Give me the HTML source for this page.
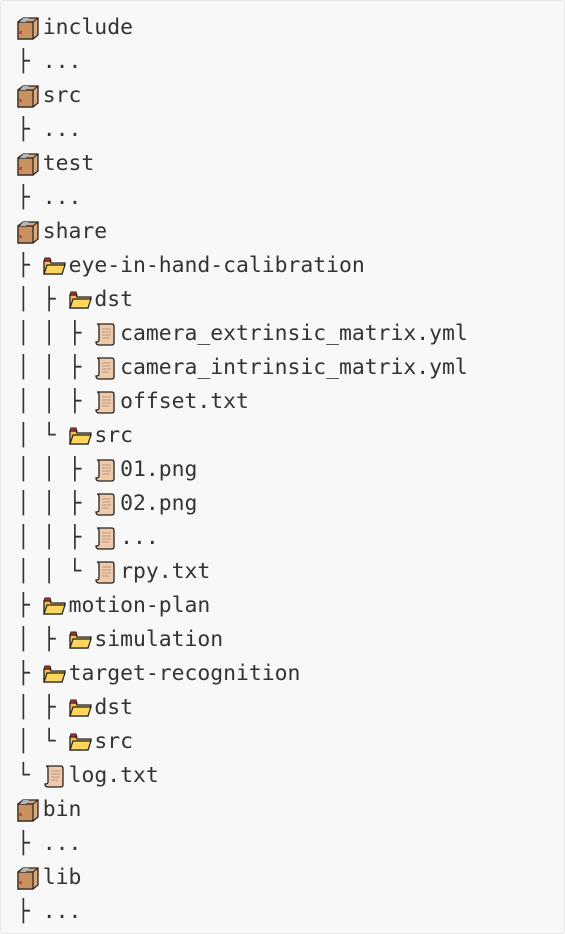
<!DOCTYPE html>
<html><head><meta charset="utf-8"><style>
html,body{margin:0;padding:0;background:#fff;}
#box{position:absolute;left:0;top:0;width:563px;height:932px;background:#f8f8f8;border:1px solid #e8e8e8;border-radius:3px;}
.l{position:absolute;left:17px;height:34px;line-height:34px;font-family:"DejaVu Sans Mono","Liberation Mono",monospace;font-size:21.4px;color:#333;white-space:pre;margin-top:2px;}
.i{display:inline-block;width:25.8px;height:34px;vertical-align:top;position:relative;}
.i svg{position:absolute;left:-1px;top:5px;}
</style></head><body><div id="box"></div>
<svg width="0" height="0" style="position:absolute">
<defs>
<g id="pk"><path d="M2 6 L7 2 L22 2 L22 19 L17 23 L2 23 Z" fill="#d9a77a" stroke="#222" stroke-width="1.3"/><path d="M2 6 L17 6 L17 23 L2 23Z" fill="#c99060" stroke="#222" stroke-width="1.2"/><path d="M17 6 L22 2" fill="none" stroke="#222" stroke-width="1.1"/><path d="M7 2 L13 2 L10 6 L4 6Z" fill="#aab8c4"/><rect x="3.5" y="15" width="2" height="3" fill="#d22"/></g>
<g id="fd"><path d="M2 7 L2 20 L20 20 L23 9 L9 9 L8 7 Z" fill="#f5c043" stroke="#222" stroke-width="1.3"/><path d="M2 7 L3 4 L8 4 L9 7Z" fill="#d22" stroke="#222" stroke-width="1"/><path d="M5 11 L23 11 L20 20 L2 20Z" fill="#fcd55f" stroke="#222" stroke-width="1.2"/></g>
<g id="sc"><path d="M5 2 L19 2 Q21 2 21 5 L21 21 Q21 23 18 23 L6 23 Q3 23 3 20 Q6 20 6 18 L6 5 Q6 2 4 2Z" fill="#f0c9a8" stroke="#222" stroke-width="1.3"/><path d="M9 7H18M9 10H18M9 13H18M9 16H16" stroke="#b98" stroke-width="1"/></g>
</defs></svg>
<div class="l" style="top:9px"><span class="i"><svg width="24" height="24"><use href="#pk"/></svg></span>include</div>
<div class="l" style="top:43px">├ ...</div>
<div class="l" style="top:77px"><span class="i"><svg width="24" height="24"><use href="#pk"/></svg></span>src</div>
<div class="l" style="top:111px">├ ...</div>
<div class="l" style="top:145px"><span class="i"><svg width="24" height="24"><use href="#pk"/></svg></span>test</div>
<div class="l" style="top:179px">├ ...</div>
<div class="l" style="top:213px"><span class="i"><svg width="24" height="24"><use href="#pk"/></svg></span>share</div>
<div class="l" style="top:247px">├ <span class="i"><svg width="24" height="24"><use href="#fd"/></svg></span>eye-in-hand-calibration</div>
<div class="l" style="top:281px">│ ├ <span class="i"><svg width="24" height="24"><use href="#fd"/></svg></span>dst</div>
<div class="l" style="top:315px">│ │ ├ <span class="i"><svg width="24" height="24"><use href="#sc"/></svg></span>camera_extrinsic_matrix.yml</div>
<div class="l" style="top:349px">│ │ ├ <span class="i"><svg width="24" height="24"><use href="#sc"/></svg></span>camera_intrinsic_matrix.yml</div>
<div class="l" style="top:383px">│ │ ├ <span class="i"><svg width="24" height="24"><use href="#sc"/></svg></span>offset.txt</div>
<div class="l" style="top:417px">│ └ <span class="i"><svg width="24" height="24"><use href="#fd"/></svg></span>src</div>
<div class="l" style="top:451px">│ │ ├ <span class="i"><svg width="24" height="24"><use href="#sc"/></svg></span>01.png</div>
<div class="l" style="top:485px">│ │ ├ <span class="i"><svg width="24" height="24"><use href="#sc"/></svg></span>02.png</div>
<div class="l" style="top:519px">│ │ ├ <span class="i"><svg width="24" height="24"><use href="#sc"/></svg></span>...</div>
<div class="l" style="top:553px">│ │ └ <span class="i"><svg width="24" height="24"><use href="#sc"/></svg></span>rpy.txt</div>
<div class="l" style="top:587px">├ <span class="i"><svg width="24" height="24"><use href="#fd"/></svg></span>motion-plan</div>
<div class="l" style="top:621px">│ ├ <span class="i"><svg width="24" height="24"><use href="#fd"/></svg></span>simulation</div>
<div class="l" style="top:655px">├ <span class="i"><svg width="24" height="24"><use href="#fd"/></svg></span>target-recognition</div>
<div class="l" style="top:689px">│ ├ <span class="i"><svg width="24" height="24"><use href="#fd"/></svg></span>dst</div>
<div class="l" style="top:723px">│ └ <span class="i"><svg width="24" height="24"><use href="#fd"/></svg></span>src</div>
<div class="l" style="top:757px">└ <span class="i"><svg width="24" height="24"><use href="#sc"/></svg></span>log.txt</div>
<div class="l" style="top:791px"><span class="i"><svg width="24" height="24"><use href="#pk"/></svg></span>bin</div>
<div class="l" style="top:825px">├ ...</div>
<div class="l" style="top:859px"><span class="i"><svg width="24" height="24"><use href="#pk"/></svg></span>lib</div>
<div class="l" style="top:893px">├ ...</div>
</body></html>
